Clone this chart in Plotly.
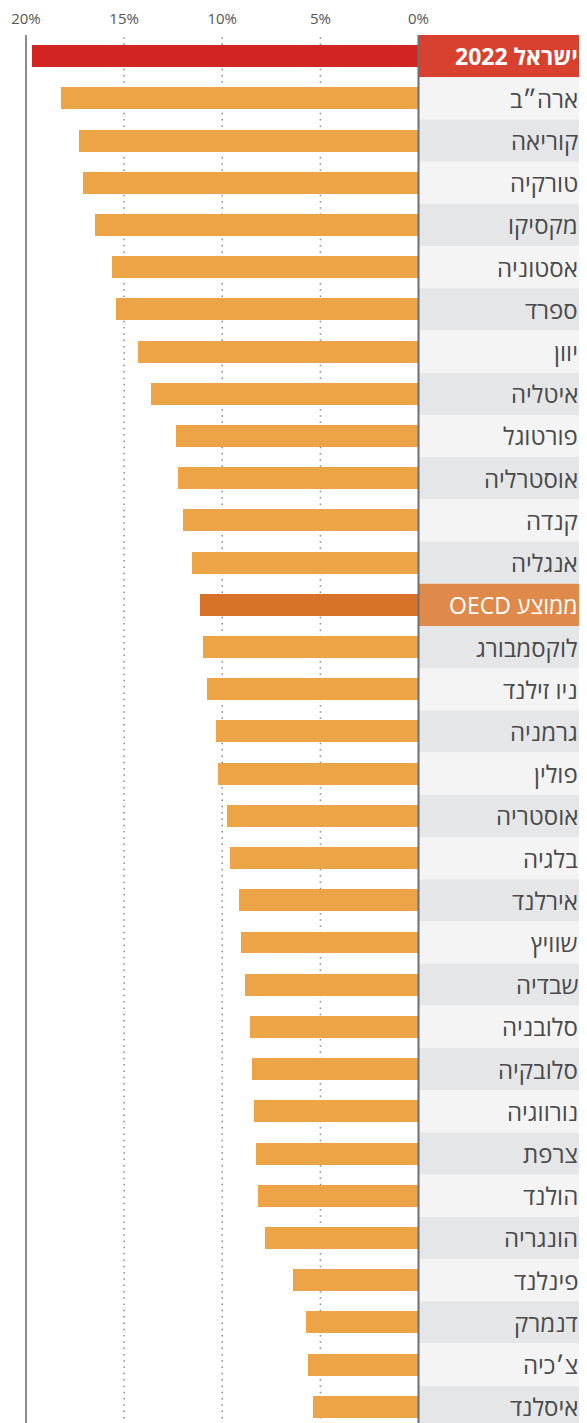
import plotly.graph_objects as go

countries = ["ישראל 2022", "ארה״ב", "קוריאה", "טורקיה", "מקסיקו", "אסטוניה", "ספרד", "יוון",
             "איטליה", "פורטוגל", "אוסטרליה", "קנדה", "אנגליה", "ממוצע OECD", "לוקסמבורג",
             "ניו זילנד", "גרמניה", "פולין", "אוסטריה", "בלגיה", "אירלנד", "שוויץ", "שבדיה",
             "סלובניה", "סלובקיה", "נורווגיה", "צרפת", "הולנד", "הונגריה", "פינלנד", "דנמרק",
             "צ׳כיה", "איסלנד"]
values = [19.7, 18.2, 17.3, 17.1, 16.5, 15.6, 15.4, 14.3,
          13.65, 12.35, 12.25, 12.0, 11.55, 11.15, 11.0,
          10.8, 10.3, 10.2, 9.75, 9.6, 9.15, 9.05, 8.85,
          8.6, 8.5, 8.4, 8.3, 8.2, 7.8, 6.4, 5.75,
          5.65, 5.4]
tick_vals = [20, 15, 10, 5, 0]
tick_text = ["20%", "15%", "10%", "5%", "0%"]

OFF = 8  # page body margin
W, H = 587 - OFF, 1423
TOP = 32 - OFF
ROW = 42.3
X0PX, PXPU = 418.5 - OFF, 19.625  # pixel of 0% and pixels per percent
x_left = X0PX / PXPU
x_right = -(W - X0PX) / PXPU
n = len(countries)
plot_h = H - TOP
y_bottom = -0.5 + plot_h / ROW

FONT = "Open Sans, Noto Sans, Liberation Sans, DejaVu Sans, sans-serif"

bar_colors = []
box_colors = []
for i, c in enumerate(countries):
    if i == 0:
        bar_colors.append("#d32424")
        box_colors.append("#d8412f")
    elif "OECD" in c:
        bar_colors.append("#d77228")
        box_colors.append("#df8a4b")
    else:
        bar_colors.append("#eca447")
        box_colors.append("#f4f4f4" if i % 2 == 1 else "#e5e6e8")

fig = go.Figure()
fig.add_trace(go.Bar(
    x=values, y=list(range(n)), orientation="h", width=0.52,
    marker=dict(color=bar_colors, line=dict(width=0)),
    hoverinfo="skip", showlegend=False,
))

shapes = []
for i in range(n):
    shapes.append(dict(type="rect", xref="paper", yref="y",
                       x0=X0PX / W, x1=1.0, y0=i - 0.5, y1=i + 0.5,
                       fillcolor=box_colors[i], line=dict(width=0), layer="below"))
for v in [5, 10, 15]:
    shapes.append(dict(type="line", xref="x", yref="paper", x0=v, x1=v, y0=0, y1=1,
                       line=dict(color="#8a8a8a", width=1.5, dash="1.5px,4.8px"), layer="below"))
shapes.append(dict(type="line", xref="x", yref="paper", x0=20, x1=20, y0=0, y1=1,
                   line=dict(color="#8c8c8c", width=2), layer="above"))
shapes.append(dict(type="line", xref="x", yref="paper", x0=0, x1=0, y0=0, y1=1,
                   line=dict(color="#6e6e6e", width=2), layer="above"))

annotations = []
for i, c in enumerate(countries):
    special = i == 0 or "OECD" in c
    txt = c
    if "OECD" in c:
        txt = "\u202b" + c + "\u202c"
    if i == 0:
        txt = "<b>" + c + "</b>"
    annotations.append(dict(
        xref="paper", yref="y", x=(580 - OFF) / W, y=i, xanchor="right", yanchor="middle",
        text=txt, showarrow=False,
        font=dict(family=FONT, size=23 if special else 24,
                  color="#ffffff" if special else "#4a4a4a"),
    ))

fig.update_layout(
    width=W, height=H,
    margin=dict(l=0, r=0, t=TOP, b=0),
    paper_bgcolor="white", plot_bgcolor="white",
    bargap=0,
    xaxis=dict(range=[x_left, x_right], side="top", tickvals=tick_vals, ticktext=tick_text,
               showgrid=False, zeroline=False, showline=False, ticks="",
               tickfont=dict(family=FONT, size=15, color="#555555"),
               ticklabelstandoff=7, fixedrange=True),
    yaxis=dict(range=[y_bottom, -0.5], showgrid=False, zeroline=False, showline=False,
               showticklabels=False, ticks="", fixedrange=True),
    shapes=shapes,
    annotations=annotations,
    font=dict(family=FONT),
)

fig.write_html("out.html")
